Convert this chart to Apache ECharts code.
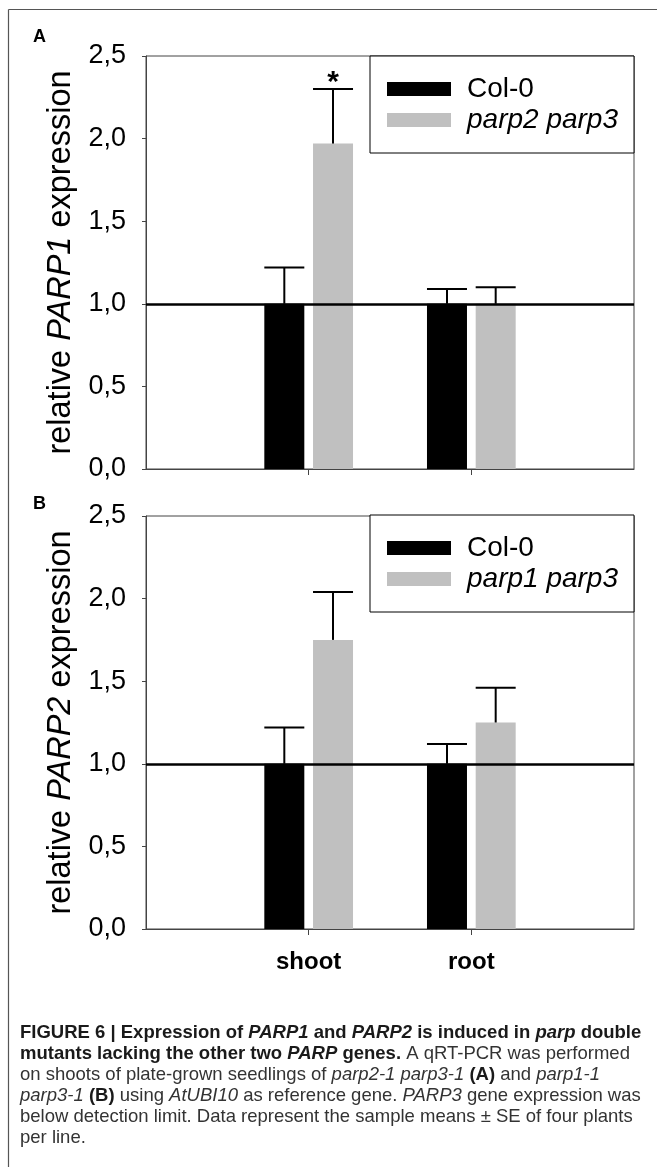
<!DOCTYPE html>
<html>
<head>
<meta charset="utf-8">
<script src="https://cdn.jsdelivr.net/npm/echarts@6/dist/echarts.min.js"></script>
<style>
html,body{margin:0;padding:0;background:#fff;}
#chart{width:657px;height:1167px;}
</style>
</head>
<body>
<div id="chart"></div>
<script>
// ---- data ----
const categories = ['shoot', 'root'];
const yTicks = [0, 0.5, 1.0, 1.5, 2.0, 2.5];
const refLine = 1.0;

const panelALabel = 'A';
const panelAGenotypes = ['Col-0', 'parp2 parp3'];
const panelAYName = ['relative ', 'PARP1', ' expression'];
const aCol0 = [1.00, 1.00];
const aCol0Err = [0.22, 0.09];
const aMut = [1.97, 1.00];
const aMutErr = [0.33, 0.10];
const aMutSig = ['*', ''];

const panelBLabel = 'B';
const panelBGenotypes = ['Col-0', 'parp1 parp3'];
const panelBYName = ['relative ', 'PARP2', ' expression'];
const bCol0 = [1.00, 1.00];
const bCol0Err = [0.22, 0.12];
const bMut = [1.75, 1.25];
const bMutErr = [0.29, 0.21];
const bMutSig = ['', ''];

const captionLines = [
  '{b|FIGURE 6 | Expression of }{bi|PARP1}{b| and }{bi|PARP2}{b| is induced in }{bi|parp}{b| double}',
  '{b|mutants lacking the other two }{bi|PARP}{b| genes.}{r| A qRT-PCR was performed}',
  '{r|on shoots of plate-grown seedlings of }{i|parp2-1 parp3-1}{r| }{b|(A)}{r| and }{i|parp1-1}',
  '{i|parp3-1}{r| }{b|(B)}{r| using }{i|AtUBI10}{r| as reference gene. }{i|PARP3}{r| gene expression was}',
  '{r|below detection limit. Data represent the sample means \u00b1 SE of four plants}',
  '{r|per line.}'
];

// ---- layout ----
const FONT = '"Liberation Sans", Arial, sans-serif';
const BAR_W = 40, BAR_GAP = 8.7;
const axisCats = [''].concat(categories, ['']);
const colors = ['#000000', '#c0c0c0'];
const grids = [
  {left: 146, width: 488, top: 56, height: 413},
  {left: 146, width: 488, top: 516, height: 413}
];

function pad(arr) { return ['-'].concat(arr, ['-']); }

function errData(means, errs, sigs) {
  return means.map((m, i) => [i + 1, m, errs[i], sigs ? sigs[i] : '']);
}

function makeErrRender(side) {
  return function (params, api) {
    const ci = api.value(0), mean = api.value(1), err = api.value(2);
    const sig = api.value(3);
    const base = api.coord([ci, mean]);
    const top = api.coord([ci, mean + err]);
    const cx = base[0] + side * (BAR_W + BAR_GAP) / 2;
    const children = [
      {type: 'line', shape: {x1: cx, y1: base[1], x2: cx, y2: top[1]}, style: {stroke: '#000', lineWidth: 2}},
      {type: 'line', shape: {x1: cx - BAR_W / 2, y1: top[1], x2: cx + BAR_W / 2, y2: top[1]}, style: {stroke: '#000', lineWidth: 2}}
    ];
    if (sig && sig !== '-' && sig !== '') {
      children.push({type: 'text', style: {text: String(sig), x: cx, y: top[1] - 6, align: 'center', verticalAlign: 'middle',
        fontSize: 30, fontWeight: 'bold', fontFamily: FONT, fill: '#000'}});
    }
    return {type: 'group', children: children};
  };
}

function yAxisCfg(gi, nameParts) {
  return {
    type: 'value', gridIndex: gi, min: yTicks[0], max: yTicks[yTicks.length - 1], interval: yTicks[1] - yTicks[0],
    axisLine: {show: true, lineStyle: {color: '#444', width: 1}},
    axisTick: {show: true, length: 4, lineStyle: {color: '#444'}},
    splitLine: {show: false},
    axisLabel: {margin: 20, fontSize: 27, color: '#000', fontFamily: FONT,
      formatter: v => v.toFixed(1).replace('.', ',')},
    name: '{a|' + nameParts[0] + '}{b|' + nameParts[1] + '}{a|' + nameParts[2] + '}',
    nameLocation: 'middle', nameRotate: 90, nameGap: 60,
    nameTextStyle: {fontSize: 32.5, color: '#000', fontFamily: FONT,
      rich: {a: {fontSize: 32.5, color: '#000', fontFamily: FONT}, b: {fontSize: 32.5, color: '#000', fontFamily: FONT, fontStyle: 'italic'}}}
  };
}

function xAxisCfg(gi, showLabels) {
  return {
    type: 'category', gridIndex: gi, data: axisCats, boundaryGap: false,
    axisLine: {show: true, lineStyle: {color: '#444', width: 1}},
    axisTick: {show: true, length: 6, interval: (idx) => idx > 0 && idx < axisCats.length - 1, lineStyle: {color: '#444'}},
    axisLabel: {show: showLabels, interval: 0, margin: 21, fontSize: 24, fontWeight: 'bold', color: '#000', fontFamily: FONT},
    splitLine: {show: false}
  };
}

function legendCfg(top, names) {
  return {
    left: 370, top: top, orient: 'vertical', selectedMode: false,
    padding: [19, 16, 19, 17], itemWidth: 64, itemHeight: 14, itemGap: 3,
    borderColor: '#000', borderWidth: 1, backgroundColor: '#fff', icon: 'rect',
    textStyle: {fontSize: 28, lineHeight: 28, color: '#000', fontFamily: FONT, padding: [0, 0, 0, 11]},
    data: [{name: names[0]}, {name: names[1], textStyle: {fontStyle: 'italic'}}]
  };
}

function panelSeries(gi, names, col0, col0Err, mut, mutErr, mutSig) {
  return [
    {type: 'bar', name: names[0], xAxisIndex: gi, yAxisIndex: gi, data: pad(col0), barWidth: BAR_W,
      barGap: (BAR_GAP / BAR_W * 100) + '%', itemStyle: {color: colors[0]}, z: 2},
    {type: 'bar', name: names[1], xAxisIndex: gi, yAxisIndex: gi, data: pad(mut), barWidth: BAR_W,
      barGap: (BAR_GAP / BAR_W * 100) + '%', itemStyle: {color: colors[1]}, z: 2},
    {type: 'custom', name: names[0] + ' err', xAxisIndex: gi, yAxisIndex: gi, renderItem: makeErrRender(-1),
      data: errData(col0, col0Err), z: 5, silent: true},
    {type: 'custom', name: names[1] + ' err', xAxisIndex: gi, yAxisIndex: gi, renderItem: makeErrRender(1),
      data: errData(mut, mutErr, mutSig), z: 5, silent: true,
      markLine: {silent: true, symbol: ['none', 'none'], label: {show: false},
        lineStyle: {color: '#000', width: 2.5, type: 'solid'}, data: [{yAxis: refLine}]}}
  ];
}

const CAP_FS = 18.5;
const richCap = {
  b: {fontSize: CAP_FS, fontWeight: 'bold', fontFamily: FONT, fill: '#1a1a1a'},
  bi: {fontSize: CAP_FS, fontWeight: 'bold', fontStyle: 'italic', fontFamily: FONT, fill: '#1a1a1a'},
  r: {fontSize: CAP_FS, fontFamily: FONT, fill: '#333'},
  i: {fontSize: CAP_FS, fontStyle: 'italic', fontFamily: FONT, fill: '#333'}
};
const captionY0 = 1033, captionDY = 21;

const graphics = [
  {type: 'line', shape: {x1: 8.5, y1: 9.5, x2: 657, y2: 9.5}, style: {stroke: '#555', lineWidth: 1.2}},
  {type: 'line', shape: {x1: 8.5, y1: 9.5, x2: 8.5, y2: 1167}, style: {stroke: '#555', lineWidth: 1.2}},
  {type: 'text', style: {text: panelALabel, x: 33, y: 37, verticalAlign: 'middle', fontSize: 18, fontWeight: 'bold', fontFamily: FONT, fill: '#000'}},
  {type: 'text', style: {text: panelBLabel, x: 33, y: 504, verticalAlign: 'middle', fontSize: 18, fontWeight: 'bold', fontFamily: FONT, fill: '#000'}}
];
captionLines.forEach((ln, i) => {
  graphics.push({type: 'text', style: {text: ln, rich: richCap, x: 20, y: captionY0 + i * captionDY, verticalAlign: 'middle', fontSize: CAP_FS, fontFamily: FONT}});
});

const chart = echarts.init(document.getElementById('chart'), null, {renderer: 'canvas'});
chart.setOption({
  animation: false,
  backgroundColor: '#fff',
  grid: grids.map(g => Object.assign({show: true, borderColor: '#444', borderWidth: 1, backgroundColor: 'transparent'}, g)),
  xAxis: [xAxisCfg(0, false), xAxisCfg(1, true)],
  yAxis: [yAxisCfg(0, panelAYName), yAxisCfg(1, panelBYName)],
  legend: [legendCfg(56, panelAGenotypes), legendCfg(515, panelBGenotypes)],
  series: panelSeries(0, panelAGenotypes, aCol0, aCol0Err, aMut, aMutErr, aMutSig)
    .concat(panelSeries(1, panelBGenotypes, bCol0, bCol0Err, bMut, bMutErr, bMutSig)),
  graphic: graphics
});
</script>
</body>
</html>
